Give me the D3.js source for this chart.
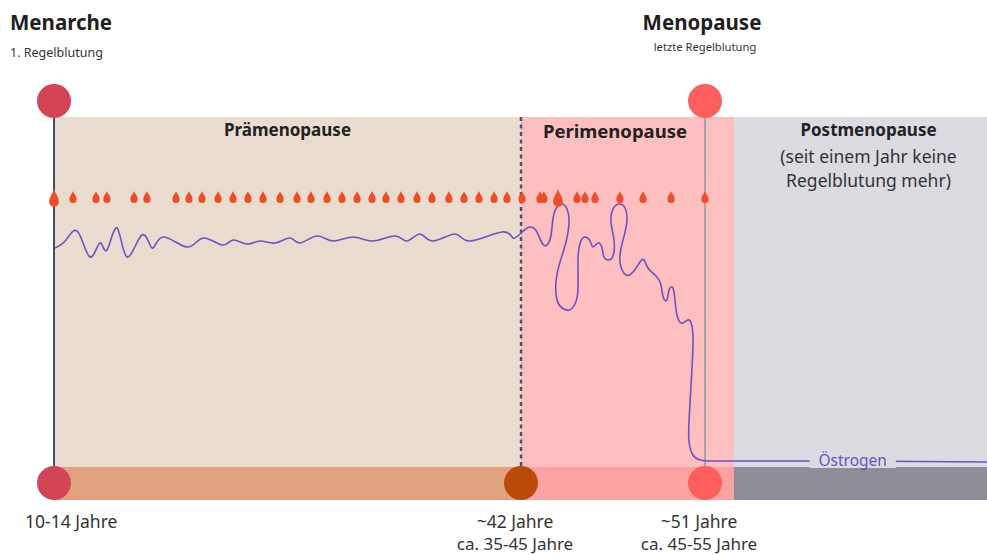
<!DOCTYPE html>
<html>
<head>
<meta charset="utf-8">
<script src="https://cdn.jsdelivr.net/npm/d3@7"></script>
<style>
body { margin: 0; background: #fff; }
svg { display: block; font-family: "Noto Sans", "Open Sans", sans-serif; }
</style>
</head>
<body>
<svg id="zyklus" width="987" height="555"></svg>
<script>
// Lebensphasen, Alter in Jahren
var phaseNames = ["Prämenopause", "Perimenopause", "Postmenopause"];
var phaseStart = [12, 42, 52];
var phaseEnd = [42, 52, 65];
var phaseNote = ["", "", "(seit einem Jahr keine|Regelblutung mehr)"];

// Meilensteine unten
var milestoneAges = [12, 42, 51];
var milestoneLabels = ["10-14 Jahre", "~42 Jahre", "~51 Jahre"];
var milestoneRanges = ["", "ca. 35-45 Jahre", "ca. 45-55 Jahre"];

// Regelblutungen (Alter)
var bleedAges = [12, 13.22, 14.70, 15.40, 17.14, 17.97, 19.84, 20.67, 21.51, 22.54,
  23.50, 24.46, 25.43, 26.52, 27.61, 28.51, 29.54, 30.50, 31.47, 32.43, 33.33,
  34.29, 35.32, 36.28, 37.37, 38.34, 39.30, 40.27, 41.10, 42.05, 42.93, 43.12,
  43.81, 44.74, 45.13, 45.62, 46.84, 47.97, 49.34, 51];
var heavyBleeds = [12, 43.81];

// Östrogenspiegel [Alter, relativer Wert]
var oestrogen = [
  [12.06, 85.2], [12.77, 88.4], [13.54, 91.6], [14.31, 81.6], [14.95, 87.2],
  [15.40, 84.4], [16.05, 93.2], [16.69, 81.6], [17.65, 90.4], [18.30, 85.2],
  [19.00, 89.6], [20.54, 85.6], [21.57, 89.2], [22.79, 86.4], [23.50, 88.4],
  [24.40, 86.8], [25.23, 88.0], [26.20, 87.2], [27.16, 89.2], [27.80, 87.2],
  [28.90, 90.0], [29.92, 88.0], [31.21, 89.6], [32.49, 88.0], [33.91, 90.0],
  [34.68, 88.0], [35.51, 90.8], [36.35, 88.0], [37.76, 90.8], [38.72, 88.0],
  [40.78, 91.6], [41.49, 89.2], [42.00, 91.2], [42.44, 93.6], [42.78, 91.6],
  [43.03, 87.2], [43.27, 86.4], [43.47, 90.4], [43.57, 97.2], [43.76, 101.6],
  [44.01, 102.8], [44.25, 100.8], [44.35, 95.6], [44.20, 87.6], [43.91, 79.6],
  [43.71, 71.6], [43.76, 64.4], [44.01, 61.2], [44.35, 60.4], [44.64, 62.8],
  [44.79, 69.2], [44.79, 81.2], [44.93, 88.0], [45.13, 89.6], [45.38, 88.0],
  [45.52, 85.6], [45.77, 87.2], [45.96, 85.2], [46.06, 81.6], [46.26, 80.4],
  [46.50, 82.0], [46.55, 88.4], [46.40, 95.6], [46.50, 100.8], [46.79, 102.8],
  [47.09, 101.2], [47.18, 95.6], [46.99, 88.4], [46.84, 82.4], [46.89, 77.6],
  [47.14, 74.4], [47.48, 75.6], [47.82, 79.6], [48.02, 80.4], [48.21, 77.2],
  [48.60, 74.0], [48.85, 70.4], [48.95, 65.6], [49.14, 64.4], [49.24, 68.4],
  [49.43, 69.2], [49.53, 64.4], [49.63, 58.4], [49.83, 55.2], [50.07, 56.0],
  [50.27, 56.0], [50.41, 50.4], [50.36, 36.4], [50.22, 16.4], [50.22, 7.6],
  [50.41, 2.4], [50.76, 0.4], [51.07, 0]
];
// danach konstant niedrig
var oestrogenTail = [[51.07, 0], [58, 0], [65, -0.4]];

var svg = d3.select("#zyklus"),
    bandTop = 117, bandBottom = 467, barBottom = 500,
    topDotY = 101, botDotY = 483, dotR = 17;

var x = d3.scaleLinear()
    .domain([12, 42, 51, 52, 65])
    .range([54, 521, 705, 734, 987]);

var y = d3.scaleLinear()
    .domain([0, 100])
    .range([461, 211]);

var phaseFill = ["#eaddd0", "#fdbfc0", "#dcdbe1"],
    barFill = ["#dfa17e", "#fda2a2", "#8f8d97"],
    dotFill = ["#d44457", "#b94a08", "#fd5f5f"];

// Hintergrund der Phasen
svg.selectAll(".phase")
  .data(phaseNames)
  .enter().append("rect")
    .attr("class", "phase")
    .attr("x", function(d, i) { return x(phaseStart[i]); })
    .attr("y", bandTop)
    .attr("width", function(d, i) { return x(phaseEnd[i]) - x(phaseStart[i]); })
    .attr("height", bandBottom - bandTop)
    .attr("fill", function(d, i) { return phaseFill[i]; });

svg.selectAll(".bar")
  .data(phaseNames)
  .enter().append("rect")
    .attr("class", "bar")
    .attr("x", function(d, i) { return x(phaseStart[i]); })
    .attr("y", bandBottom)
    .attr("width", function(d, i) { return x(phaseEnd[i]) - x(phaseStart[i]); })
    .attr("height", barBottom - bandBottom)
    .attr("fill", function(d, i) { return barFill[i]; });

// Phasen-Titel
var labelX = [
  (x(phaseStart[0]) + x(phaseEnd[0])) / 2,
  (x(phaseStart[1]) + x(milestoneAges[2])) / 2 + 2,
  (x(phaseStart[2]) + x(phaseEnd[2])) / 2 + 8
];
svg.selectAll(".phase-label")
  .data(phaseNames)
  .enter().append("text")
    .attr("class", "phase-label")
    .attr("x", function(d, i) { return labelX[i]; })
    .attr("y", function(d, i) { return i == 1 ? 138 : 136; })
    .attr("text-anchor", "middle")
    .attr("font-size", function(d, i) { return i == 1 ? 18.5 : 17; })
    .attr("font-weight", 700)
    .attr("fill", "#222")
    .text(function(d) { return d; });

phaseNote.forEach(function(note, i) {
  if (!note) return;
  note.split("|").forEach(function(line, k) {
    svg.append("text")
      .attr("x", labelX[i])
      .attr("y", 162.5 + k * 24.5)
      .attr("text-anchor", "middle")
      .attr("font-size", 17.5)
      .attr("fill", "#333")
      .text(line);
  });
});

// senkrechte Linien
svg.append("line")
    .attr("x1", x(12)).attr("x2", x(12))
    .attr("y1", topDotY).attr("y2", botDotY)
    .attr("stroke", "#3f5068").attr("stroke-width", 2);

svg.append("line")
    .attr("x1", x(51)).attr("x2", x(51))
    .attr("y1", topDotY).attr("y2", botDotY)
    .attr("stroke", "#a7a3a7").attr("stroke-width", 2);

svg.append("line")
    .attr("x1", x(42)).attr("x2", x(42))
    .attr("y1", bandTop).attr("y2", botDotY)
    .attr("stroke", "#4e5364").attr("stroke-width", 2.5)
    .attr("stroke-dasharray", "4,3.5");

// Östrogenkurve
var line = d3.line()
    .x(function(d) { return x(d[0]); })
    .y(function(d) { return y(d[1]); })
    .curve(d3.curveNatural);

var tail = d3.line()
    .x(function(d) { return x(d[0]); })
    .y(function(d) { return y(d[1]); });

svg.append("path")
    .datum(oestrogen)
    .attr("fill", "none")
    .attr("stroke", "#6b53c4")
    .attr("stroke-width", 1.6)
    .attr("stroke-linejoin", "round")
    .attr("d", line);

svg.append("path")
    .datum(oestrogenTail)
    .attr("fill", "none")
    .attr("stroke", "#6b53c4")
    .attr("stroke-width", 1.6)
    .attr("d", tail);

var oeLabel = svg.append("g")
    .attr("transform", "translate(" + (x(58.1)) + "," + y(0) + ")");
oeLabel.append("rect")
    .attr("x", -43).attr("y", -8)
    .attr("width", 86).attr("height", 15)
    .attr("fill", phaseFill[2]);
oeLabel.append("text")
    .attr("y", 5)
    .attr("text-anchor", "middle")
    .attr("font-size", 15.5)
    .attr("fill", "#6b53c4")
    .text("Östrogen");

// Blutstropfen
function dropPath(r, h) {
  return "M0," + (-h) +
    "C" + (r * 0.35) + "," + (-h * 0.55) + " " + r + "," + (-r * 1.2) + " " + r + ",0" +
    "A" + r + "," + r + " 0 0 1 " + (-r) + ",0" +
    "C" + (-r) + "," + (-r * 1.2) + " " + (-r * 0.35) + "," + (-h * 0.55) + " 0," + (-h) + "Z";
}

svg.selectAll(".drop")
  .data(bleedAges)
  .enter().append("path")
    .attr("class", "drop")
    .attr("transform", function(d) {
      return "translate(" + x(d) + "," + (heavyBleeds.indexOf(d) >= 0 ? 202 : 199.5) + ")";
    })
    .attr("d", function(d) {
      return heavyBleeds.indexOf(d) >= 0 ? dropPath(4.8, 13) : dropPath(3.6, 8.5);
    })
    .attr("fill", "#ee4d2a");

// Punkte
svg.selectAll(".dot-top")
  .data([0, 2])
  .enter().append("circle")
    .attr("class", "dot-top")
    .attr("cx", function(i) { return x(milestoneAges[i]); })
    .attr("cy", topDotY)
    .attr("r", dotR)
    .attr("fill", function(i) { return dotFill[i]; });

svg.selectAll(".dot-bottom")
  .data(milestoneAges)
  .enter().append("circle")
    .attr("class", "dot-bottom")
    .attr("cx", function(d) { return x(d); })
    .attr("cy", botDotY)
    .attr("r", dotR)
    .attr("fill", function(d, i) { return dotFill[i]; });

// Beschriftung unten
svg.selectAll(".age-label")
  .data(milestoneLabels)
  .enter().append("text")
    .attr("class", "age-label")
    .attr("x", function(d, i) { return i == 0 ? x(milestoneAges[i]) - 29 : x(milestoneAges[i]) - 6; })
    .attr("y", 528)
    .attr("text-anchor", function(d, i) { return i == 0 ? "start" : "middle"; })
    .attr("font-size", 17.5)
    .attr("fill", "#333")
    .text(function(d) { return d; });

svg.selectAll(".range-label")
  .data(milestoneRanges)
  .enter().append("text")
    .attr("class", "range-label")
    .attr("x", function(d, i) { return x(milestoneAges[i]) - 6; })
    .attr("y", 550)
    .attr("text-anchor", "middle")
    .attr("font-size", 17)
    .attr("fill", "#333")
    .text(function(d) { return d; });

// Titel oben
svg.append("text")
    .attr("x", 10).attr("y", 30)
    .attr("font-size", 20.5).attr("font-weight", 700).attr("fill", "#1e1e1e")
    .text("Menarche");
svg.append("text")
    .attr("x", 10).attr("y", 57)
    .attr("font-size", 12.5).attr("fill", "#333")
    .text("1. Regelblutung");
svg.append("text")
    .attr("x", x(51) - 3).attr("y", 30)
    .attr("text-anchor", "middle")
    .attr("font-size", 20.5).attr("font-weight", 700).attr("fill", "#1e1e1e")
    .text("Menopause");
svg.append("text")
    .attr("x", x(51)).attr("y", 51)
    .attr("text-anchor", "middle")
    .attr("font-size", 11.2).attr("fill", "#333")
    .text("letzte Regelblutung");
</script>
</body>
</html>
